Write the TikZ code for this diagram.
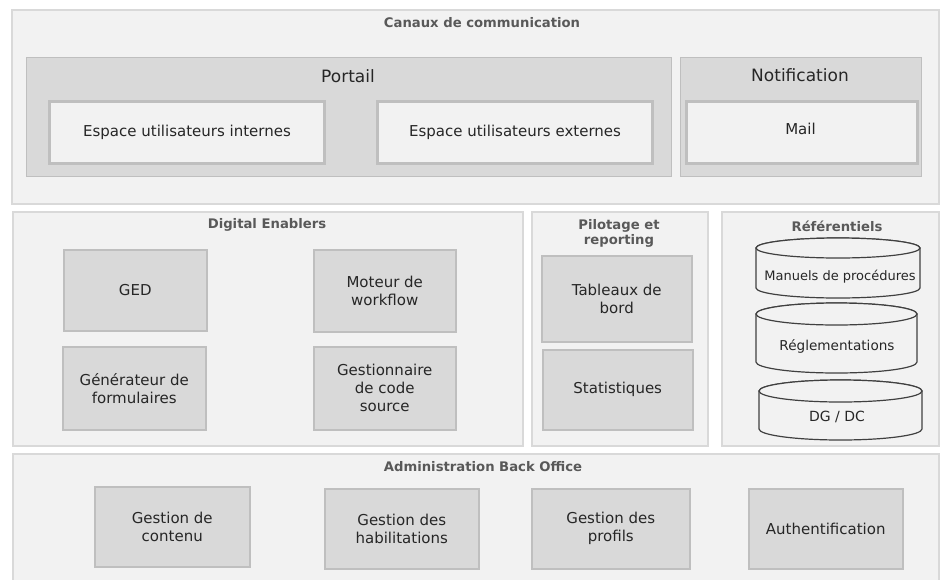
\documentclass[tikz,border=0pt]{standalone}
\usepackage{fontspec}
\setmainfont{DejaVu Sans}
\definecolor{panelfill}{HTML}{F2F2F2}
\definecolor{panelline}{HTML}{D9D9D9}
\definecolor{grayfill}{HTML}{D9D9D9}
\definecolor{grayline}{HTML}{BFBFBF}
\definecolor{bodytext}{HTML}{262626}
\definecolor{titletext}{HTML}{595959}
\definecolor{cylline}{HTML}{404040}
\begin{document}
\begin{tikzpicture}[x=1pt,y=-1pt,
  panel/.style={rectangle, draw=panelline, fill=panelfill, line width=1.5pt, inner sep=0pt, anchor=north west},
  group/.style={rectangle, draw=grayline, fill=grayfill, line width=1.2pt, inner sep=0pt, anchor=north west},
  lightbox/.style={rectangle, draw=grayline, fill=panelfill, line width=3pt, inner sep=0pt, anchor=north west},
  graybox/.style={rectangle, draw=grayline, fill=grayfill, line width=1.5pt, inner sep=0pt, anchor=north west},
  label/.style={text=bodytext, align=center, font=\fontsize{15}{18}\selectfont, inner sep=0pt},
  bigtitle/.style={text=bodytext, font=\fontsize{17}{20}\selectfont, inner sep=0pt},
  paneltitle/.style={text=titletext, align=center, font=\fontsize{13.2}{15}\selectfont\bfseries, inner sep=0pt},
  cyl/.style={draw=cylline, fill=panelfill, line width=1.2pt},
  cyltext/.style={text=bodytext, font=\fontsize{13}{16}\selectfont, inner sep=0pt}
]
\useasboundingbox (0,0) rectangle (940,579);
\fill[white] (0,0) rectangle (940,579);

% Canaux de communication
\node[panel, minimum width=927pt, minimum height=194pt] (canaux) at (11,9) {};
\node[paneltitle] (canauxT) at (482,23) {Canaux de communication};
\node[group, minimum width=645pt, minimum height=119pt] (portail) at (26,57) {};
\node[bigtitle] (portailT) at (348,76) {Portail};
\node[group, minimum width=241pt, minimum height=119pt] (notif) at (680,57) {};
\node[bigtitle] (notifT) at (800,75) {Notification};
\node[lightbox, minimum width=275pt, minimum height=62pt] (espint) at (48,100) {};
\node[label] at (espint.center) {Espace utilisateurs internes};
\node[lightbox, minimum width=275pt, minimum height=62pt] (espext) at (376,100) {};
\node[label] at (espext.center) {Espace utilisateurs externes};
\node[lightbox, minimum width=231pt, minimum height=62pt] (mail) at (685,100) {};
\node[label] at (800.5,129) {Mail};

% Digital Enablers
\node[panel, minimum width=510pt, minimum height=234pt] (digital) at (12,211) {};
\node[paneltitle] (digitalT) at (267,225) {Digital Enablers};
\node[graybox, minimum width=143pt, minimum height=81pt] (ged) at (63,249) {};
\node[label] at (ged.center) {GED};
\node[graybox, minimum width=142pt, minimum height=82pt] (moteur) at (313,249) {};
\node[label] at (moteur.center) {Moteur de\\workflow};
\node[graybox, minimum width=143pt, minimum height=83pt] (gener) at (62,346) {};
\node[label] at (gener.center) {Générateur de\\formulaires};
\node[graybox, minimum width=142pt, minimum height=83pt] (gestcode) at (313,346) {};
\node[label] at (gestcode.center) {Gestionnaire\\de code\\source};

% Pilotage et reporting
\node[panel, minimum width=176pt, minimum height=234pt] (pilot) at (531,211) {};
\node[paneltitle] (pilotT) at (619,233.5) {Pilotage et\\reporting};
\node[graybox, minimum width=150pt, minimum height=86pt] (tableaux) at (541,255) {};
\node[label] at (tableaux.center) {Tableaux de\\bord};
\node[graybox, minimum width=150pt, minimum height=80pt] (stats) at (542,349) {};
\node[label] at (stats.center) {Statistiques};

% Referentiels
\node[panel, minimum width=217pt, minimum height=234pt] (refs) at (721,211) {};
\node[paneltitle] (refsT) at (837,226) {Référentiels};
\draw[cyl] (756,248) -- (756,288) arc[start angle=180, end angle=360, x radius=82pt, y radius=10pt] -- (920,248) arc[start angle=0, end angle=180, x radius=82pt, y radius=10pt] -- cycle;
\draw[cyl] (838,248) ellipse[x radius=82pt, y radius=10pt];
\node[cyltext] (manuels) at (840,277) {Manuels de procédures};
\draw[cyl] (756,314) -- (756,362) arc[start angle=180, end angle=360, x radius=80.5pt, y radius=11pt] -- (917,314) arc[start angle=0, end angle=180, x radius=80.5pt, y radius=11pt] -- cycle;
\draw[cyl] (836.5,314) ellipse[x radius=80.5pt, y radius=11pt];
\node[cyltext, font=\fontsize{13.6}{16}\selectfont] (regl) at (837,346) {Réglementations};
\draw[cyl] (759,391) -- (759,429) arc[start angle=180, end angle=360, x radius=81.5pt, y radius=11pt] -- (922,391) arc[start angle=0, end angle=180, x radius=81.5pt, y radius=11pt] -- cycle;
\draw[cyl] (840.5,391) ellipse[x radius=81.5pt, y radius=11pt];
\node[cyltext, font=\fontsize{14}{16}\selectfont] (dgdc) at (837,417) {DG / DC};

% Administration Back Office
\node[panel, minimum width=926pt, minimum height=135pt] (admin) at (12,453) {};
\node[paneltitle] (adminT) at (483,467) {Administration Back Office};
\node[graybox, minimum width=155pt, minimum height=80pt] (contenu) at (94,486) {};
\node[label] at (contenu.center) {Gestion de\\contenu};
\node[graybox, minimum width=154pt, minimum height=80pt] (habil) at (324,488) {};
\node[label] at (habil.center) {Gestion des\\habilitations};
\node[graybox, minimum width=158pt, minimum height=80pt] (profils) at (531,488) {};
\node[label] at (profils.center) {Gestion des\\profils};
\node[graybox, minimum width=154pt, minimum height=80pt] (auth) at (748,488) {};
\node[label] at (auth.center) {Authentification};
\end{tikzpicture}
\end{document}
